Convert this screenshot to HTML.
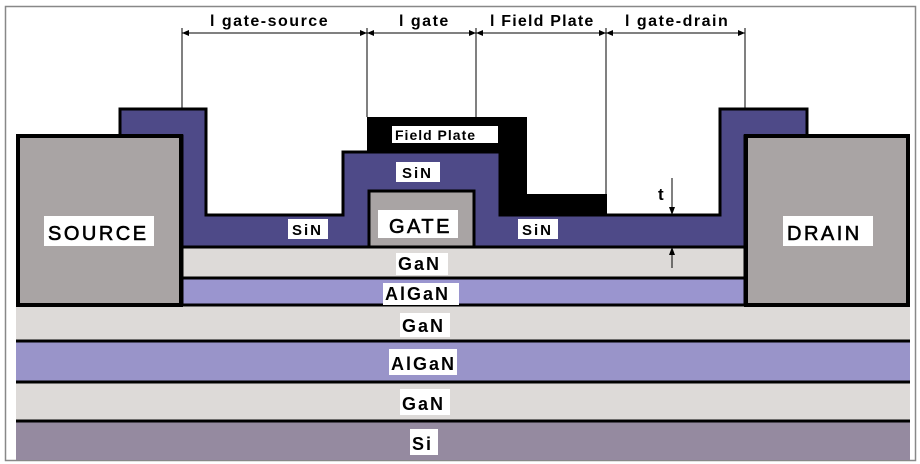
<!DOCTYPE html>
<html><head><meta charset="utf-8"><style>
html,body{margin:0;padding:0;background:#fff;}
svg{display:block;}
text{font-family:"Liberation Sans",Arial,sans-serif;font-weight:bold;fill:#000;}
</style></head><body>
<svg width="920" height="464" viewBox="0 0 920 464" xmlns="http://www.w3.org/2000/svg">
<rect x="0" y="0" width="920" height="464" fill="#fff"/>
<rect x="5.5" y="6.5" width="910" height="454" fill="none" stroke="#888" stroke-width="1.5"/>

<rect x="16" y="305" width="894" height="36" fill="#dddad8"/>
<rect x="16" y="341" width="894" height="41" fill="#9994c9"/>
<rect x="16" y="382" width="894" height="39" fill="#dddad8"/>
<rect x="16" y="421" width="894" height="39" fill="#958aa0"/>
<line x1="16" y1="341" x2="910" y2="341" stroke="#000" stroke-width="3"/>
<line x1="16" y1="382" x2="910" y2="382" stroke="#000" stroke-width="3"/>
<line x1="16" y1="421" x2="910" y2="421" stroke="#000" stroke-width="3"/>

<rect x="182" y="247" width="563" height="31" fill="#dddad8" stroke="#000" stroke-width="3"/>
<rect x="182" y="278" width="563" height="27" fill="#9a95cf" stroke="#000" stroke-width="3"/>

<polygon points="367,117 527,117 527,194 607,194 607,216 500,216 500,152 367,152" fill="#000"/>

<polygon points="120,109 206,109 206,215 343,215 343,152 500,152 500,215 720,215 720,109 807,109 807,136 745,136 745,247 182,247 182,136 120,136" fill="#4e4a88" stroke="#000" stroke-width="3"/>

<rect x="369" y="191" width="105" height="56" fill="#a9a4a4" stroke="#000" stroke-width="3"/>

<rect x="18" y="136" width="163" height="169" fill="#a9a4a4" stroke="#000" stroke-width="4"/>
<rect x="746" y="136" width="162" height="169" fill="#a9a4a4" stroke="#000" stroke-width="4"/>

<g stroke="#000" stroke-width="1">
<line x1="182" y1="33" x2="745" y2="33"/>
<line x1="182" y1="28" x2="182" y2="109"/>
<line x1="367" y1="28" x2="367" y2="117"/>
<line x1="476" y1="28" x2="476" y2="117"/>
<line x1="606" y1="28" x2="606" y2="194"/>
<line x1="745" y1="28" x2="745" y2="109"/>
<line x1="672" y1="178" x2="672" y2="214"/>
<line x1="672" y1="248" x2="672" y2="268"/>
</g>
<g fill="#000">
<polygon points="182,33 189,30 189,36"/>
<polygon points="367,33 360,30 360,36"/><polygon points="367,33 374,30 374,36"/>
<polygon points="476,33 469,30 469,36"/><polygon points="476,33 483,30 483,36"/>
<polygon points="606,33 599,30 599,36"/><polygon points="606,33 613,30 613,36"/>
<polygon points="745,33 738,30 738,36"/>
<polygon points="672,215 669,207 675,207"/>
<polygon points="672,247 669,255 675,255"/>
</g>
<text x="210" y="26" font-size="16" letter-spacing="1.5">l gate-source</text>
<text x="399" y="26" font-size="16" letter-spacing="1.5">l gate</text>
<text x="490" y="26" font-size="16" letter-spacing="1.2">l Field Plate</text>
<text x="625" y="26" font-size="16" letter-spacing="1.5">l gate-drain</text>
<text x="658" y="200" font-size="17">t</text>

<g fill="#fff">
<rect x="44" y="216" width="110" height="30"/>
<rect x="783" y="216" width="90" height="30"/>
<rect x="378" y="210" width="80" height="28"/>
<rect x="392" y="126" width="106" height="17"/>
<rect x="396" y="162" width="44" height="20"/>
<rect x="288" y="219" width="40" height="20"/>
<rect x="518" y="219" width="40" height="20"/>
<rect x="396" y="253" width="52" height="22"/>
<rect x="383" y="283" width="76" height="22"/>
<rect x="400" y="313" width="50" height="24"/>
<rect x="389" y="349" width="68" height="26"/>
<rect x="400" y="389" width="50" height="26"/>
<rect x="410" y="429" width="28" height="26"/>
</g>
<text x="48" y="240" font-size="20" letter-spacing="2.5" style="font-weight:normal;stroke:#000;stroke-width:0.6">SOURCE</text>
<text x="787" y="240" font-size="20" letter-spacing="2.5" style="font-weight:normal;stroke:#000;stroke-width:0.6">DRAIN</text>
<text x="389" y="233" font-size="20" letter-spacing="2.5" style="font-weight:normal;stroke:#000;stroke-width:0.6">GATE</text>
<text x="395" y="140" font-size="14" letter-spacing="1">Field Plate</text>
<text x="402" y="178" font-size="15" letter-spacing="2">SiN</text>
<text x="292" y="235" font-size="15" letter-spacing="2">SiN</text>
<text x="522" y="235" font-size="15" letter-spacing="2">SiN</text>
<text x="398" y="270" font-size="18" letter-spacing="2">GaN</text>
<text x="385" y="300" font-size="18" letter-spacing="2">AlGaN</text>
<text x="402" y="332" font-size="18" letter-spacing="2">GaN</text>
<text x="391" y="370" font-size="18" letter-spacing="2">AlGaN</text>
<text x="402" y="410" font-size="18" letter-spacing="2">GaN</text>
<text x="412" y="450" font-size="18" letter-spacing="2">Si</text>
</svg>
</body></html>
